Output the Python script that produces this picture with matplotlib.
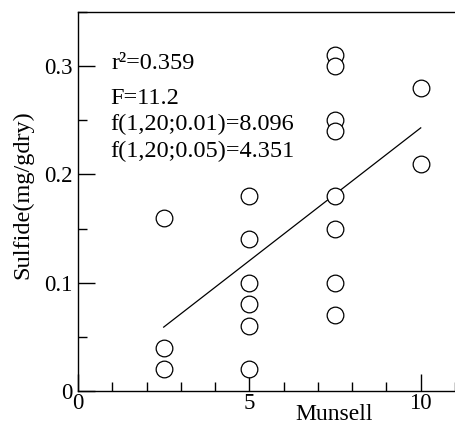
import matplotlib
matplotlib.use("Agg")
import matplotlib.pyplot as plt
from matplotlib.ticker import MultipleLocator

# ---- data ----
munsell = [2.5, 2.5, 2.5,
           5, 5, 5, 5, 5, 5,
           7.5, 7.5, 7.5, 7.5, 7.5, 7.5, 7.5, 7.5,
           10, 10]
sulfide = [0.16, 0.04, 0.02,
           0.18, 0.14, 0.10, 0.08, 0.06, 0.02,
           0.31, 0.30, 0.25, 0.24, 0.18, 0.15, 0.10, 0.07,
           0.28, 0.21]
fit_x = [2.5, 10]
fit_y = [0.059, 0.243]
stats_lines = ["F=11.2", "f(1,20;0.01)=8.096", "f(1,20;0.05)=4.351"]
r2_text = "r²=0.359"
x_ticks = [0, 5, 10]
y_ticks = [0, 0.1, 0.2, 0.3]
y_tick_labels = ["0", "0.1", "0.2", "0.3"]

plt.rcParams['font.family'] = ['Liberation Serif', 'DejaVu Serif']

fig = plt.figure(figsize=(4.55, 4.25), dpi=100)
ax = fig.add_axes([78/455, 34/425, 1 - 78/455, 379/425])

ax.plot(munsell, sulfide, linestyle='none', marker='o', markersize=12,
        markerfacecolor='white', markeredgecolor='black', markeredgewidth=0.9,
        clip_on=False, zorder=3)
ax.plot(fit_x, fit_y, color='black', linewidth=0.9, zorder=2)

ax.set_xlim(0, 11)
ax.set_ylim(0, 0.35)

ax.spines['right'].set_visible(False)
for s in ['left', 'top', 'bottom']:
    ax.spines[s].set_linewidth(1.0)

ax.set_xticks(x_ticks)
ax.set_xticklabels([str(t) for t in x_ticks])
ax.set_yticks(y_ticks)
ax.set_yticklabels(y_tick_labels)
ax.xaxis.set_minor_locator(MultipleLocator(1))
ax.yaxis.set_minor_locator(MultipleLocator(0.05))
ax.tick_params(which='both', direction='in', top=False, right=False, width=1.0)
ax.tick_params(which='major', length=12.5, labelsize=16.5)
ax.tick_params(which='minor', length=6.5)
ax.tick_params(axis='x', which='major', pad=1.5)
ax.tick_params(axis='y', which='major', pad=4)

ax.set_xlabel("Munsell", fontsize=17)
ax.xaxis.set_label_coords(0.68, -0.033)
ax.set_ylabel("Sulfide(mg/gdry)", fontsize=17.5, va='center')
ax.yaxis.set_label_coords(-0.146, 0.517)

ax.text(0.97, 0.2977, r2_text, fontsize=17.5, ha='left', va='baseline')
for txt, yb in zip(stats_lines, [0.2654, 0.2406, 0.2157]):
    ax.text(0.93, yb, txt, fontsize=17.5, ha='left', va='baseline')

fig.savefig("out.png", dpi=100)
